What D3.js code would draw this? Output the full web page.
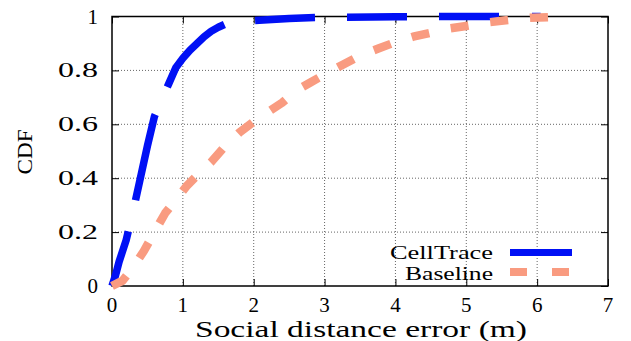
<!DOCTYPE html>
<html>
<head>
<meta charset="utf-8">
<script src="https://cdn.jsdelivr.net/npm/d3@7"></script>
<style>
  body { margin: 0; background: #fff; }
  svg text { font-family: "Liberation Serif", Tinos, "Times New Roman", Times, serif; fill: #000; }
</style>
</head>
<body>
<div id="cdf"></div>
<script>
// CDF of social distance error
var cellTraceX = [0, 0.05, 0.1, 0.2, 0.3, 0.4, 0.5, 0.6, 0.7, 0.8, 0.9, 1.0, 1.1, 1.2, 1.3, 1.4, 1.5, 1.6, 1.8, 2.0, 2.5, 3.0, 4.0, 5.0, 6.05];
var cellTraceY = [0, 0.04, 0.09, 0.17, 0.28, 0.40, 0.52, 0.63, 0.69, 0.75, 0.81, 0.845, 0.875, 0.90, 0.925, 0.945, 0.96, 0.972, 0.98, 0.985, 0.993, 0.997, 0.999, 1.0, 1.0];

var baselineX = [0, 0.15, 0.3, 0.45, 0.6, 0.75, 0.9, 1.05, 1.2, 1.4, 1.6, 1.8, 2.0, 2.2, 2.4, 2.6, 2.8, 3.0, 3.25, 3.5, 3.75, 4.0, 4.25, 4.5, 4.75, 5.0, 5.3, 5.6, 5.9, 6.2, 6.4];
var baselineY = [0, 0.02, 0.07, 0.13, 0.20, 0.27, 0.32, 0.37, 0.41, 0.46, 0.52, 0.57, 0.61, 0.645, 0.68, 0.725, 0.755, 0.785, 0.82, 0.855, 0.88, 0.905, 0.925, 0.94, 0.955, 0.965, 0.978, 0.987, 0.995, 0.998, 1.0];

var xTicks = [0, 1, 2, 3, 4, 5, 6, 7];
var yTicks = [0, 0.2, 0.4, 0.6, 0.8, 1];
var yTickLabels = ["0", "0.2", "0.4", "0.6", "0.8", "1"];
var seriesNames = ["CellTrace", "Baseline"];

drawCdf();
function drawCdf(){
    var W = 631, H = 341;
    var left = 112, right = 608, top = 16.5, bottom = 286;
    var serif = "'Liberation Serif', Tinos, 'Times New Roman', Times, serif";

    var svg = d3.select("#cdf")
    .append("svg")
        .attr("width", W)
        .attr("height", H)
        .attr("font-family", serif);

    var x = d3.scaleLinear().domain([0, 7]).range([left, right]);
    var y = d3.scaleLinear().domain([0, 1]).range([bottom, top]);

    // dotted grid
    svg.append("g")
        .selectAll("line")
        .data(xTicks.slice(1, -1))
        .enter().append("line")
        .attr("x1", function(d) { return x(d); })
        .attr("x2", function(d) { return x(d); })
        .attr("y1", bottom).attr("y2", top)
        .attr("stroke", "#666").attr("stroke-width", 1)
        .attr("stroke-dasharray", "1,2");
    svg.append("g")
        .selectAll("line")
        .data(yTicks.slice(1, -1))
        .enter().append("line")
        .attr("y1", function(d) { return y(d); })
        .attr("y2", function(d) { return y(d); })
        .attr("x1", left).attr("x2", right)
        .attr("stroke", "#666").attr("stroke-width", 1)
        .attr("stroke-dasharray", "1,2");

    // inward ticks on all four sides
    svg.append("g")
        .attr("transform", "translate(0," + bottom + ")")
        .call(d3.axisTop(x).tickValues(xTicks).tickSize(7).tickFormat(""))
        .call(function(g) { g.select(".domain").remove(); });
    svg.append("g")
        .attr("transform", "translate(0," + top + ")")
        .call(d3.axisBottom(x).tickValues(xTicks).tickSize(7).tickFormat(""))
        .call(function(g) { g.select(".domain").remove(); });
    svg.append("g")
        .attr("transform", "translate(" + left + ",0)")
        .call(d3.axisRight(y).tickValues(yTicks).tickSize(7).tickFormat(""))
        .call(function(g) { g.select(".domain").remove(); });
    svg.append("g")
        .attr("transform", "translate(" + right + ",0)")
        .call(d3.axisLeft(y).tickValues(yTicks).tickSize(7).tickFormat(""))
        .call(function(g) { g.select(".domain").remove(); });
    svg.selectAll(".tick line").attr("stroke", "#000").attr("stroke-width", 1);
    svg.selectAll(".tick text").remove();

    // frame
    svg.append("rect")
        .attr("x", left).attr("y", top)
        .attr("width", right - left).attr("height", bottom - top)
        .attr("fill", "none").attr("stroke", "#000").attr("stroke-width", 1.5);

    // tick labels
    svg.append("g")
        .selectAll("text")
        .data(xTicks)
        .enter().append("text")
        .attr("x", function(d) { return x(d); })
        .attr("y", 311.5)
        .attr("text-anchor", "middle")
        .attr("font-size", 21)
        .text(function(d) { return d; });
    svg.append("g")
        .selectAll("text")
        .data(yTicks)
        .enter().append("text")
        .attr("x", 98)
        .attr("y", function(d) { return y(d) + 7; })
        .attr("text-anchor", "end")
        .attr("font-size", 21)
        .each(function(d, i) {
            var lab = yTickLabels[i];
            d3.select(this).text(lab);
            if (lab.length > 1) d3.select(this).attr("textLength", 40).attr("lengthAdjust", "spacingAndGlyphs");
        });

    // axis titles
    svg.append("text")
        .attr("x", 361).attr("y", 336.5)
        .attr("text-anchor", "middle")
        .attr("font-size", 24)
        .attr("textLength", 332).attr("lengthAdjust", "spacingAndGlyphs")
        .text("Social distance error (m)");
    svg.append("text")
        .attr("transform", "translate(32,152) rotate(-90)")
        .attr("text-anchor", "middle")
        .attr("font-size", 21)
        .attr("textLength", 45).attr("lengthAdjust", "spacingAndGlyphs")
        .text("CDF");

    var line = d3.line()
        .x(function(d) { return x(d[0]); })
        .y(function(d) { return y(d[1]); });

    // CellTrace (blue, long dashes)
    svg.append("path")
        .datum(d3.zip(cellTraceX, cellTraceY))
        .attr("d", line)
        .attr("fill", "none")
        .attr("stroke", "#0010f5")
        .attr("stroke-width", 7.5)
        .attr("stroke-linejoin", "round")
        .attr("stroke-dasharray", "57,32,88,30,87,31,60,32,60,32,60,33,60,30");

    // Baseline (salmon, short dashes)
    svg.append("path")
        .datum(d3.zip(baselineX, baselineY))
        .attr("d", line)
        .attr("fill", "none")
        .attr("stroke", "#f99b80")
        .attr("stroke-width", 8.5)
        .attr("stroke-linejoin", "round")
        .attr("stroke-dasharray", "18,22");

    // legend
    var leg = svg.append("g");
    leg.append("text")
        .attr("x", 493).attr("y", 258.5)
        .attr("text-anchor", "end").attr("font-size", 19)
        .attr("textLength", 103).attr("lengthAdjust", "spacingAndGlyphs")
        .text(seriesNames[0]);
    leg.append("text")
        .attr("x", 493).attr("y", 279.5)
        .attr("text-anchor", "end").attr("font-size", 19)
        .attr("textLength", 88).attr("lengthAdjust", "spacingAndGlyphs")
        .text(seriesNames[1]);
    leg.append("line")
        .attr("x1", 510).attr("x2", 572).attr("y1", 252.5).attr("y2", 252.5)
        .attr("stroke", "#0010f5").attr("stroke-width", 7);
    leg.append("line")
        .attr("x1", 510).attr("x2", 569).attr("y1", 272).attr("y2", 272)
        .attr("stroke", "#f99b80").attr("stroke-width", 8)
        .attr("stroke-dasharray", "17,25");
}
</script>
</body>
</html>
